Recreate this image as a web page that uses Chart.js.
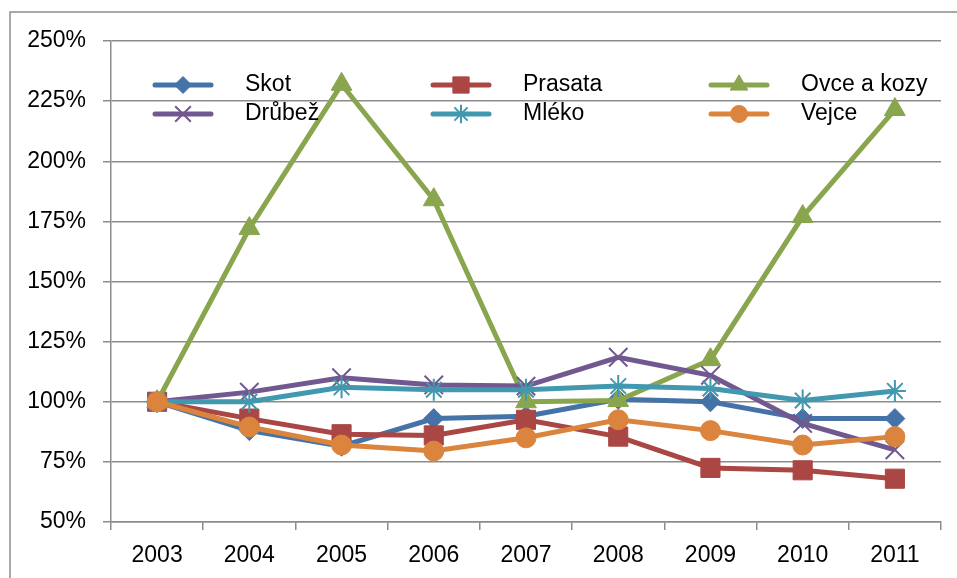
<!DOCTYPE html>
<html>
<head>
<meta charset="utf-8">
<script src="https://cdn.jsdelivr.net/npm/chart.js@4.4.1/dist/chart.umd.min.js"></script>
<style>
    html, body { margin: 0; padding: 0; background: #fff; }
    #wrap { width: 957px; height: 578px; }
</style>
</head>
<body>
<div id="wrap"><canvas id="lineChart" width="957" height="578"></canvas></div>
<script>
        // data (index 2003 = 100 %)
        const years = ['2003', '2004', '2005', '2006', '2007', '2008', '2009', '2010', '2011'];
        const seriesNames = ['Skot', 'Prasata', 'Ovce a kozy', 'Drůbež', 'Mléko', 'Vejce'];
        const skot = [100, 88, 81.5, 93, 94, 101, 100, 93, 93];
        const prasata = [100, 93, 86.5, 86, 92.5, 85.5, 72.5, 71.5, 68];
        const ovce = [100, 172, 232, 184, 100, 100.5, 117.5, 177, 221.5];
        const drubez = [100, 104, 110, 107, 106.5, 118.5, 111, 91, 80];
        const mleko = [100, 100, 106, 105, 105, 106.5, 105.5, 100.5, 104.5];
        const vejce = [100, 89.5, 82, 79.5, 85, 92.5, 88, 82, 85.5];
        const yMin = 50, yMax = 250, yStep = 25;

        const colors = ['#4572A7', '#AA4643', '#89A54E', '#71588F', '#4198AF', '#DB843D'];
        const styles = ['rectRot', 'rect', 'triangle', 'crossRot', 'star', 'circle'];
        const radii = [10, 13.5, 12, 13, 11, 10];
        const values = [skot, prasata, ovce, drubez, mleko, vejce];
        const gridGray = '#8c8c8c';
        const fontFamily = '"Liberation Sans", Arial, sans-serif';

        const datasets = values.map(function (v, i) {
            return {
                label: seriesNames[i],
                data: v,
                borderColor: colors[i],
                backgroundColor: colors[i],
                borderWidth: 5,
                tension: 0,
                pointStyle: styles[i],
                pointRadius: radii[i],
                pointBackgroundColor: colors[i],
                pointBorderColor: colors[i],
                pointBorderWidth: (styles[i] === 'crossRot' || styles[i] === 'star') ? 2 : 1,
                order: values.length - i // last series on top, like Excel
            };
        });

        // outer frame of the chart object
        const framePlugin = {
            id: 'frame',
            beforeDraw(chart) {
                const ctx = chart.ctx;
                ctx.save();
                ctx.strokeStyle = gridGray;
                ctx.lineWidth = 1.5;
                ctx.strokeRect(10, 12, 1200, 1200);
                ctx.restore();
            }
        };

        // legend drawn inside the plot area, 3 columns x 2 rows
        const legendPlugin = {
            id: 'insideLegend',
            afterDraw(chart) {
                const ctx = chart.ctx;
                const colX = [155, 433, 711];
                const rowY = [85, 114];
                ctx.save();
                chart.data.datasets.forEach(function (ds, i) {
                    const x = colX[i % 3];
                    const y = rowY[Math.floor(i / 3)];
                    ctx.strokeStyle = ds.borderColor;
                    ctx.lineWidth = 5;
                    ctx.lineCap = 'round';
                    ctx.beginPath();
                    ctx.moveTo(x, y);
                    ctx.lineTo(x + 56, y);
                    ctx.stroke();
                    ctx.fillStyle = ds.borderColor;
                    ctx.strokeStyle = ds.borderColor;
                    ctx.lineWidth = ds.pointBorderWidth;
                    ctx.lineCap = 'butt';
                    Chart.helpers.drawPoint(ctx, {
                        pointStyle: ds.pointStyle,
                        radius: ds.pointRadius * 0.85,
                        borderWidth: ds.pointBorderWidth,
                        rotation: 0
                    }, x + 28, y);
                    ctx.fillStyle = '#000';
                    ctx.font = '23px ' + fontFamily;
                    ctx.textAlign = 'left';
                    ctx.textBaseline = 'middle';
                    ctx.fillText(ds.label, x + 90, y);
                });
                ctx.restore();
            }
        };

        const ctx = document.getElementById('lineChart').getContext('2d');
        window.myLineChart = new Chart(ctx, {
            type: 'line',
            data: { labels: years, datasets: datasets },
            plugins: [framePlugin, legendPlugin],
            options: {
                responsive: false,
                animation: false,
                layout: { padding: { top: 41, right: 16, left: 0, bottom: 0 } },
                plugins: {
                    legend: { display: false },
                    tooltip: { enabled: false }
                },
                scales: {
                    x: {
                        offset: true,
                        afterFit: function (scale) { scale.height = 56; },
                        grid: {
                            offset: true,
                            drawOnChartArea: false,
                            drawTicks: true,
                            tickLength: 8,
                            color: gridGray,
                            lineWidth: 1.5
                        },
                        border: { display: true, color: gridGray, width: 1.5 },
                        ticks: {
                            color: '#000',
                            padding: 12,
                            maxRotation: 0,
                            font: { family: fontFamily, size: 23 }
                        }
                    },
                    y: {
                        min: yMin,
                        max: yMax,
                        afterFit: function (scale) { scale.width = 111; },
                        grid: {
                            drawTicks: true,
                            tickLength: 8,
                            color: gridGray,
                            lineWidth: 1.5
                        },
                        border: { display: true, color: gridGray, width: 1.5 },
                        ticks: {
                            stepSize: yStep,
                            color: '#000',
                            padding: 17,
                            font: { family: fontFamily, size: 23 },
                            callback: function (value) { return value + '%'; }
                        }
                    }
                }
            }
        });
</script>
</body>
</html>
